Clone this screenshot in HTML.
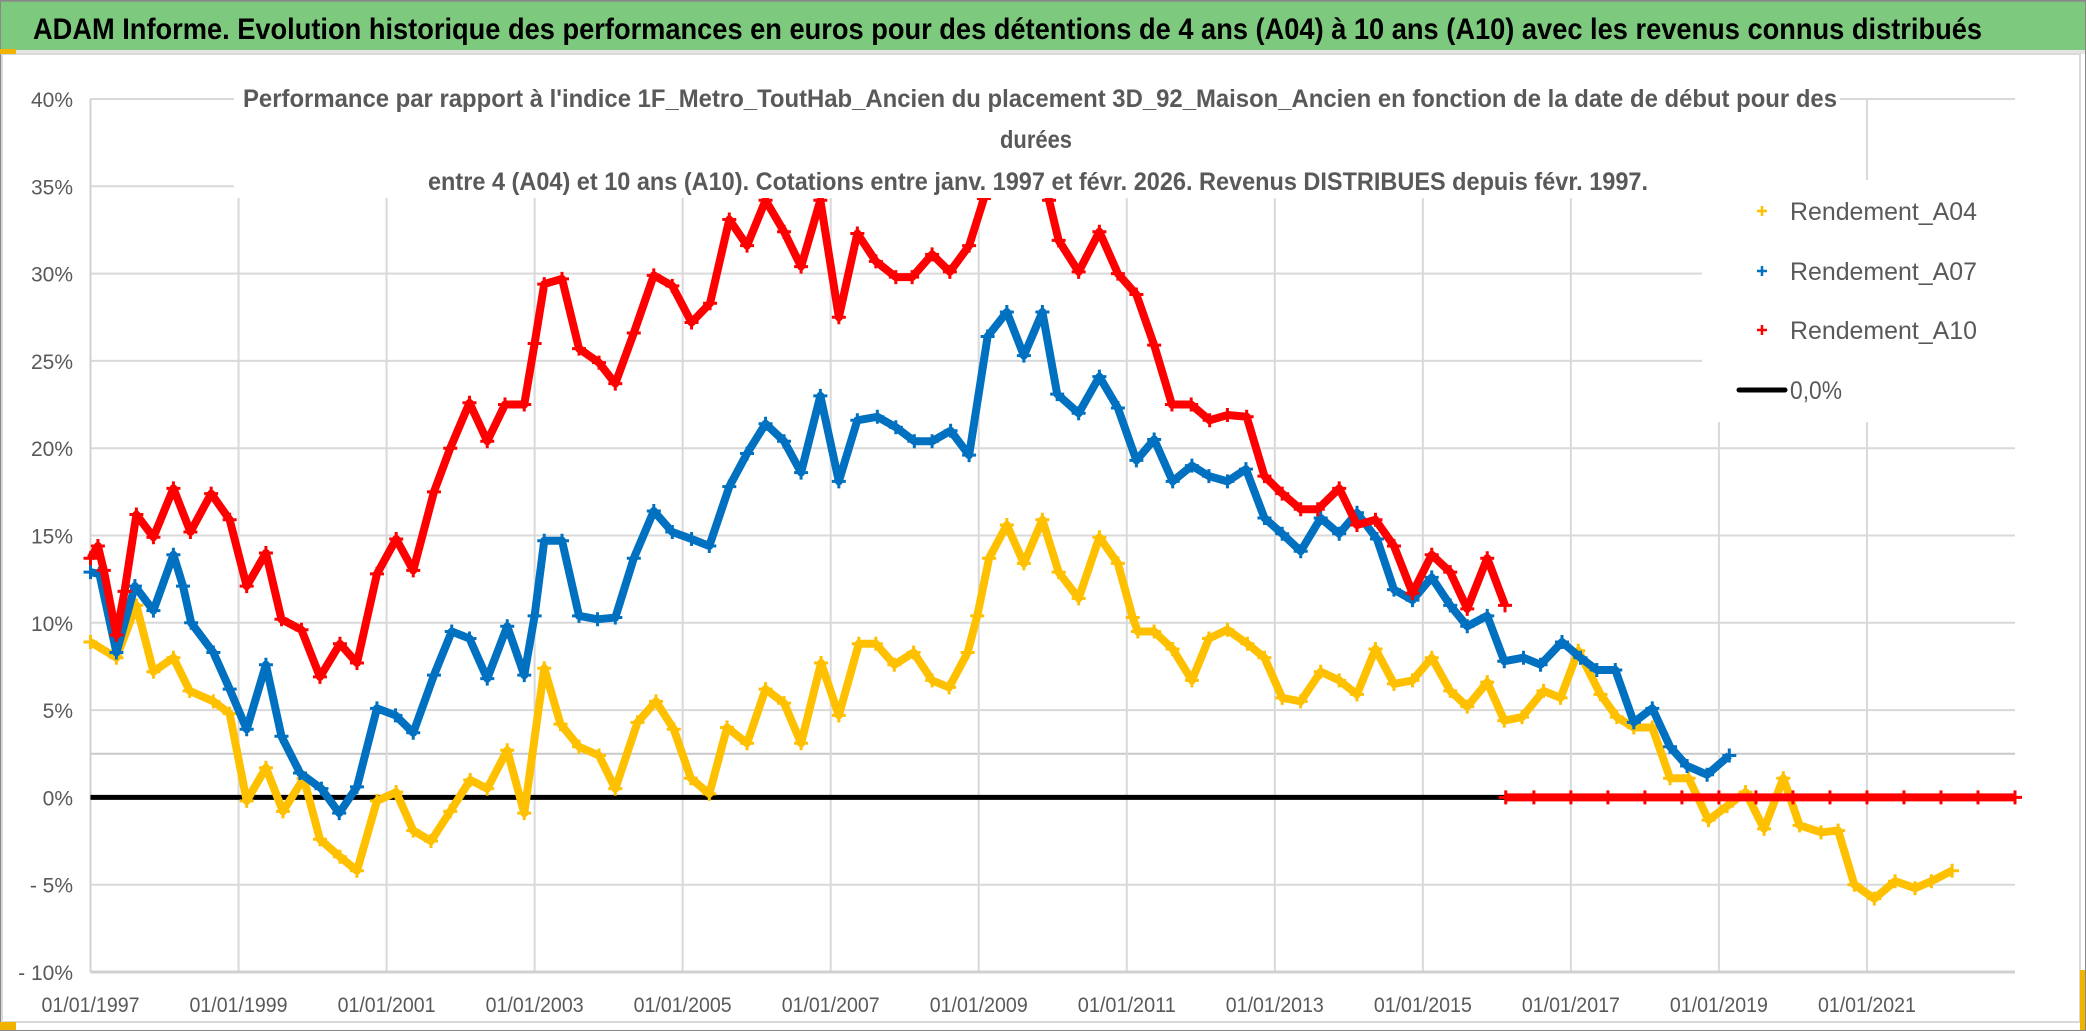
<!DOCTYPE html>
<html><head><meta charset="utf-8"><style>
html,body{margin:0;padding:0;background:#fff;}
svg{display:block;font-family:"Liberation Sans",sans-serif;}
</style></head><body>
<svg id="chart" width="2086" height="1031" viewBox="0 0 2086 1031" xmlns="http://www.w3.org/2000/svg">
<rect x="0" y="0" width="2086" height="1031" fill="#fff"/>
<rect x="0" y="0" width="2086" height="50" fill="#7dc97d"/>
<line x1="0" y1="1" x2="2086" y2="1" stroke="#8a9a8a" stroke-width="2"/>
<text x="33" y="39" font-size="30" font-weight="bold" fill="#000" textLength="1949" lengthAdjust="spacingAndGlyphs">ADAM Informe. Evolution historique des performances en euros pour des détentions de 4 ans (A04) à 10 ans (A10) avec les revenus connus distribués</text>
<rect x="0" y="50" width="2086" height="4" fill="#e4e4e4"/>
<rect x="2" y="54" width="2078" height="968" fill="none" stroke="#d9d9d9" stroke-width="2"/>
<rect x="0.5" y="0.5" width="2085" height="1030" fill="none" stroke="#888" stroke-width="1"/>
<rect x="0" y="49" width="16" height="5" fill="#f0b400"/>
<rect x="2080" y="970" width="5" height="60" fill="#f0b400"/>
<rect x="0" y="1022" width="16" height="8" fill="#f0b400"/>
<g id="grid"></g>
<g id="series"></g>
<g id="overlay"></g>
</svg>
<script>
// ---- data ----
const yTickValues = [40,35,30,25,20,15,10,5,0,-5,-10];
const yTickLabels = ["40%","35%","30%","25%","20%","15%","10%","5%","0%","- 5%","- 10%"];
const xTickYears = [1997,1999,2001,2003,2005,2007,2009,2011,2013,2015,2017,2019,2021];
const xTickLabels = ["01/01/1997","01/01/1999","01/01/2001","01/01/2003","01/01/2005","01/01/2007","01/01/2009","01/01/2011","01/01/2013","01/01/2015","01/01/2017","01/01/2019","01/01/2021"];

const a04Dates = [1997.0,1997.35,1997.62,1997.85,1998.12,1998.34,1998.66,1998.88,1999.11,1999.37,1999.6,1999.88,2000.1,2000.37,2000.6,2000.87,2001.13,2001.36,2001.6,2001.86,2002.13,2002.36,2002.63,2002.86,2003.13,2003.35,2003.6,2003.87,2004.09,2004.39,2004.64,2004.88,2005.11,2005.36,2005.6,2005.87,2006.12,2006.37,2006.6,2006.87,2007.11,2007.38,2007.61,2007.86,2008.12,2008.37,2008.6,2008.85,2008.98,2009.14,2009.38,2009.61,2009.86,2010.08,2010.35,2010.63,2010.88,2011.08,2011.15,2011.37,2011.62,2011.88,2012.11,2012.36,2012.63,2012.86,2013.1,2013.35,2013.62,2013.87,2014.11,2014.36,2014.61,2014.86,2015.12,2015.37,2015.6,2015.87,2016.1,2016.34,2016.63,2016.86,2017.1,2017.4,2017.62,2017.85,2018.1,2018.34,2018.59,2018.86,2019.11,2019.36,2019.61,2019.87,2020.09,2020.38,2020.61,2020.83,2021.1,2021.38,2021.65,2021.87,2022.15];
const a04Values = [8.9,8.0,11.0,7.2,8.0,6.1,5.5,4.8,-0.2,1.7,-0.8,1.1,-2.4,-3.4,-4.2,-0.2,0.3,-1.9,-2.5,-0.8,1.0,0.5,2.7,-0.9,7.4,4.2,2.9,2.4,0.5,4.3,5.5,3.9,1.1,0.2,4.0,3.1,6.2,5.4,3.1,7.7,4.7,8.8,8.8,7.6,8.3,6.7,6.3,8.3,10.4,13.7,15.6,13.4,15.9,12.9,11.4,14.9,13.4,10.3,9.5,9.5,8.5,6.7,9.1,9.6,8.8,8.0,5.7,5.5,7.2,6.7,5.9,8.5,6.5,6.7,8.0,6.1,5.2,6.6,4.4,4.6,6.1,5.7,8.4,5.9,4.6,4.0,4.0,1.1,1.1,-1.3,-0.5,0.3,-1.8,1.1,-1.6,-2.0,-1.9,-5.0,-5.8,-4.8,-5.2,-4.8,-4.2];

const a07Dates = [1997.0,1997.12,1997.35,1997.6,1997.85,1998.12,1998.25,1998.36,1998.66,1998.88,1999.11,1999.37,1999.58,1999.83,2000.12,2000.36,2000.6,2000.87,2001.12,2001.36,2001.64,2001.88,2002.12,2002.36,2002.63,2002.86,2003.0,2003.13,2003.37,2003.6,2003.85,2004.09,2004.34,2004.61,2004.86,2005.12,2005.36,2005.63,2005.87,2006.12,2006.37,2006.6,2006.86,2007.11,2007.36,2007.63,2007.88,2008.13,2008.37,2008.62,2008.87,2009.12,2009.38,2009.61,2009.86,2010.06,2010.35,2010.63,2010.88,2011.13,2011.37,2011.62,2011.88,2012.11,2012.36,2012.61,2012.86,2013.1,2013.35,2013.62,2013.87,2014.11,2014.38,2014.61,2014.86,2015.12,2015.37,2015.6,2015.87,2016.1,2016.36,2016.59,2016.88,2017.13,2017.35,2017.6,2017.85,2018.1,2018.34,2018.57,2018.84,2019.14];
const a07Values = [12.9,12.8,8.3,12.1,10.7,13.9,12.1,10.0,8.3,6.2,3.9,7.6,3.5,1.4,0.5,-0.9,0.6,5.1,4.7,3.7,7.0,9.5,9.1,6.8,9.8,7.0,10.4,14.7,14.7,10.4,10.2,10.3,13.7,16.4,15.2,14.8,14.4,17.8,19.7,21.4,20.4,18.6,23.0,18.1,21.6,21.8,21.2,20.4,20.4,21.0,19.6,26.4,27.8,25.3,27.8,23.1,22.0,24.1,22.3,19.3,20.5,18.1,19.0,18.4,18.1,18.8,16.0,15.1,14.1,16.0,15.1,16.3,14.8,11.9,11.3,12.6,11.0,9.8,10.4,7.8,8.0,7.6,8.9,8.0,7.3,7.3,4.3,5.1,2.9,1.8,1.3,2.4];

const a10Dates = [1997.0,1997.1,1997.18,1997.35,1997.46,1997.62,1997.85,1998.12,1998.35,1998.63,1998.88,1999.11,1999.37,1999.58,1999.85,2000.1,2000.37,2000.6,2000.87,2001.13,2001.36,2001.64,2001.86,2002.12,2002.36,2002.6,2002.86,2003.0,2003.13,2003.37,2003.6,2003.87,2004.09,2004.34,2004.61,2004.86,2005.12,2005.37,2005.63,2005.87,2006.12,2006.37,2006.6,2006.86,2007.11,2007.36,2007.61,2007.88,2008.1,2008.37,2008.61,2008.87,2009.07,2009.25,2009.45,2009.65,2009.85,2009.95,2010.08,2010.35,2010.63,2010.88,2011.13,2011.37,2011.61,2011.87,2012.12,2012.36,2012.62,2012.86,2013.1,2013.35,2013.58,2013.87,2014.11,2014.36,2014.61,2014.86,2015.12,2015.37,2015.6,2015.87,2016.11];
const a10Values = [13.7,14.4,13.0,9.3,11.8,16.2,14.9,17.7,15.2,17.4,15.9,12.1,14.0,10.2,9.6,6.9,8.8,7.7,12.8,14.8,13.0,17.5,20.0,22.6,20.4,22.5,22.5,26.0,29.4,29.7,25.7,24.9,23.7,26.6,29.9,29.3,27.2,28.3,33.1,31.6,34.2,32.4,30.4,34.2,27.5,32.3,30.7,29.8,29.8,31.1,30.1,31.6,34.3,39.0,41.5,40.5,37.5,34.2,31.9,30.1,32.4,30.0,28.8,25.9,22.5,22.5,21.6,21.9,21.8,18.4,17.4,16.5,16.5,17.7,15.6,15.9,14.4,11.7,13.9,12.9,10.8,13.7,11.0];

const a10TailDates = [2016.12,2016.5,2017.0,2017.5,2018.0,2018.5,2019.0,2019.5,2020.0,2020.5,2021.0,2021.5,2022.0,2022.5,2023.0];
const a10TailValues = [0,0,0,0,0,0,0,0,0,0,0,0,0,0,0];

const zeroLineDates = [1997.0,2023.0];
const zeroLineValues = [0,0];

// ---- axes ----
const PX0=90.5, PX1=2015, PY0=99, PY1=972;
const X_MIN=1997, X_MAX=2023, Y_MIN=-10, Y_MAX=40;
function xScale(yr){return PX0+(yr-X_MIN)/(X_MAX-X_MIN)*(PX1-PX0);}
function yScale(v){return PY1-(v-Y_MIN)/(Y_MAX-Y_MIN)*(PY1-PY0);}

const NS="http://www.w3.org/2000/svg";
function mk(tag,attrs,parent){const e=document.createElementNS(NS,tag);for(const k in attrs)e.setAttribute(k,attrs[k]);parent.appendChild(e);return e;}
const grid=document.getElementById('grid');
const series=document.getElementById('series');
const overlay=document.getElementById('overlay');
const svg=document.getElementById('chart');

const defs=mk('defs',{},svg);
const cp=mk('clipPath',{id:'plotclip'},defs);
mk('rect',{x:PX0-10,y:PY0,width:PX1-PX0+20,height:PY1-PY0+10},cp);
series.setAttribute('clip-path','url(#plotclip)');

yTickValues.forEach((v,i)=>{
  const y=yScale(v);
  const l=mk('line',{x1:PX0,y1:y,x2:PX1,y2:y,stroke:'#d9d9d9','stroke-width':2},grid);
  
  
  const t=mk('text',{x:73,y:y+8,'text-anchor':'end','font-size':21,fill:'#595959'},grid);
  
  
  t.textContent=yTickLabels[i];
});
const ref=mk('line',{x1:PX0,y1:yScale(2.5),x2:PX1,y2:yScale(2.5),stroke:'#c8c8c8','stroke-width':2},grid);


xTickYears.forEach((yr,i)=>{
  const x=xScale(yr);
  if(i>0){
    const l=mk('line',{x1:x,y1:PY0,x2:x,y2:PY1,stroke:'#d9d9d9','stroke-width':2},grid);
    
    
  }
  const t=mk('text',{x:x,y:1012,'text-anchor':'middle','font-size':21,fill:'#595959',textLength:98,lengthAdjust:'spacingAndGlyphs'},grid);
  
  
  t.textContent=xTickLabels[i];
});
const ax=mk('line',{x1:PX0,y1:PY0,x2:PX0,y2:PY1,stroke:'#d0d0d0','stroke-width':2},grid);


const bx=mk('line',{x1:PX0,y1:PY1,x2:PX1,y2:PY1,stroke:'#d0d0d0','stroke-width':3},grid);



const zl=mk('polyline',{points:zeroLineDates.map((d,i)=>xScale(d)+','+yScale(zeroLineValues[i])).join(' '),fill:'none',stroke:'#000','stroke-width':5},series);



function drawSeries(dates,vals,color,name){
  const g=mk('g',{},series);
  
  
  const pl=mk('polyline',{points:dates.map((d,i)=>xScale(d)+','+yScale(vals[i])).join(' '),fill:'none',stroke:color,'stroke-width':8,'stroke-linejoin':'round'},g);
  
  
  dates.forEach((d,i)=>{
    const x=xScale(d),y=yScale(vals[i]);
    const p=mk('path',{d:`M${x-7},${y}H${x+7}M${x},${y-7}V${y+7}`,stroke:color,'stroke-width':3,fill:'none'},g);
    
    
  });
}
drawSeries(a04Dates,a04Values,'#FFC000','series-a04');
drawSeries(a07Dates,a07Values,'#0070C0','series-a07');
drawSeries(a10Dates,a10Values,'#FF0000','series-a10');
drawSeries(a10TailDates,a10TailValues,'#FF0000','series-a10-zero');

const sb=mk('rect',{x:234,y:86,width:1606,height:112,fill:'#fff'},overlay);


const sub=[
 {t:"Performance par rapport à l'indice 1F_Metro_ToutHab_Ancien  du placement 3D_92_Maison_Ancien en fonction de la date de début pour des",x:243,y:107,w:1594,n:'subtitle-line-1'},
 {t:"durées",x:1000,y:148,w:72,n:'subtitle-line-2'},
 {t:"entre 4 (A04) et 10 ans (A10). Cotations entre janv. 1997 et févr. 2026. Revenus DISTRIBUES depuis févr. 1997.",x:428,y:190,w:1220,n:'subtitle-line-3'}
];
sub.forEach(s=>{
  const t=mk('text',{x:s.x,y:s.y,'font-size':25,'font-weight':'bold',fill:'#595959',textLength:s.w,lengthAdjust:'spacingAndGlyphs'},overlay);
  
  
  t.textContent=s.t;
});

const lg=mk('g',{},overlay);


mk('rect',{x:1702,y:180,width:318,height:242,fill:'#fff'},lg);
const legendItems=[
 {label:'Rendement_A04',color:'#FFC000',y:211,n:'legend-entry-a04'},
 {label:'Rendement_A07',color:'#0070C0',y:271,n:'legend-entry-a07'},
 {label:'Rendement_A10',color:'#FF0000',y:330,n:'legend-entry-a10'}
];
legendItems.forEach(it=>{
  const g=mk('g',{},lg);
  
  
  mk('path',{d:`M1757,${it.y}H1767M1762,${it.y-5}V${it.y+5}`,stroke:it.color,'stroke-width':2.5},g);
  const t=mk('text',{x:1790,y:it.y+9,'font-size':25,fill:'#595959',textLength:187,lengthAdjust:'spacingAndGlyphs'},g);
  t.textContent=it.label;
});
const zg=mk('g',{},lg);


mk('line',{x1:1739,y1:390,x2:1785,y2:390,stroke:'#000','stroke-width':5,'stroke-linecap':'round'},zg);
const zt=mk('text',{x:1790,y:399,'font-size':25,fill:'#595959',textLength:52,lengthAdjust:'spacingAndGlyphs'},zg);
zt.textContent='0,0%';
</script>
</body></html>
